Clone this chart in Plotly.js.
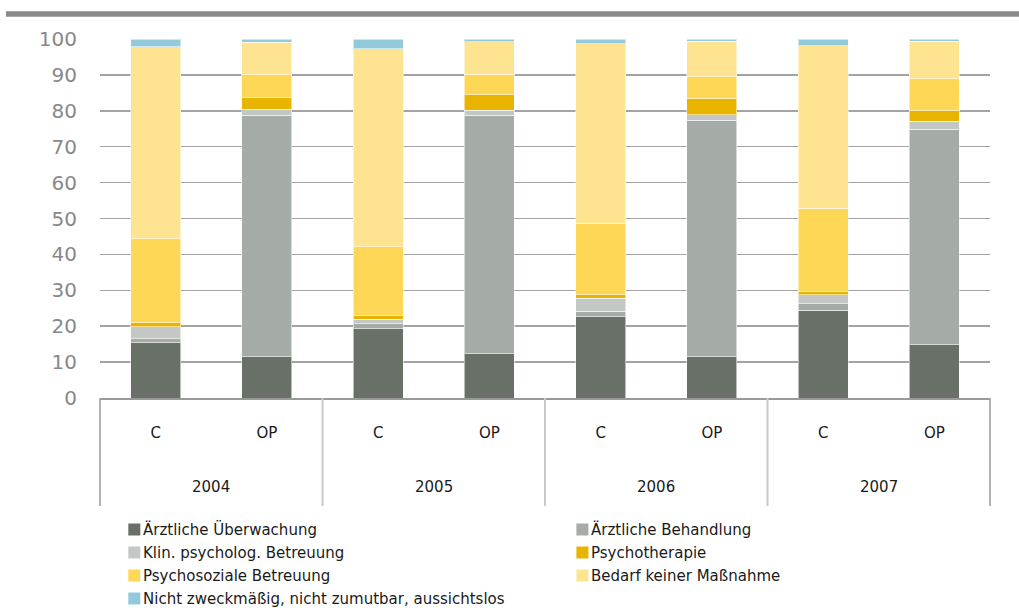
<!DOCTYPE html>
<html>
<head>
<meta charset="utf-8">
<script src="https://cdn.plot.ly/plotly-3.0.1.min.js"></script>
<style>html,body{margin:0;padding:0;background:#fff;}#chart{width:1019px;height:608px;}</style>
</head>
<body>
<div id="chart"></div>
<script>
// ---- data ----
const years = ['2004', '2005', '2006', '2007'];
const groups = ['C', 'OP'];
const seriesNames = [
  'Ärztliche Überwachung',
  'Ärztliche Behandlung',
  'Klin. psycholog. Betreuung',
  'Psychotherapie',
  'Psychosoziale Betreuung',
  'Bedarf keiner Maßnahme',
  'Nicht zweckmäßig, nicht zumutbar, aussichtslos'
];
// order: 2004 C, 2004 OP, 2005 C, 2005 OP, 2006 C, 2006 OP, 2007 C, 2007 OP
const aerztlicheUeberwachung = [15.4, 11.5, 19.3, 12.3, 22.7, 11.5, 24.5, 14.9];
const aerztlicheBehandlung   = [1.1, 67.3, 1.4, 66.5, 1.5, 65.8, 1.7, 60.0];
const klinPsychBetreuung     = [3.3, 1.6, 1.2, 1.4, 3.6, 1.6, 2.5, 2.2];
const psychotherapie         = [1.2, 3.3, 1.0, 4.3, 0.9, 4.4, 1.0, 2.9];
const psychosozialeBetreuung = [23.3, 6.4, 19.2, 5.7, 20.0, 6.2, 23.2, 8.9];
const bedarfKeinerMassnahme  = [53.6, 9.0, 55.2, 9.1, 50.0, 9.9, 45.2, 10.5];
const nichtZweckmaessig      = [2.1, 0.9, 2.7, 0.7, 1.3, 0.6, 1.9, 0.6];
const yTickVals = [0, 10, 20, 30, 40, 50, 60, 70, 80, 90, 100];

// ---- styles ----
const colors = ['#687068', '#a5aca8', '#c3c8c5', '#e9b400', '#fed756', '#fee490', '#92cadb'];
const seriesValues = [aerztlicheUeberwachung, aerztlicheBehandlung, klinPsychBetreuung,
  psychotherapie, psychosozialeBetreuung, bedarfKeinerMassnahme, nichtZweckmaessig];

const cats = [];
const catText = [];
years.forEach(y => groups.forEach(g => { cats.push(y + ' ' + g); catText.push(g); }));

const traces = seriesNames.map((name, i) => ({
  type: 'bar',
  name: name,
  x: cats,
  y: seriesValues[i],
  width: 0.45,
  marker: { color: colors[i], line: { color: 'rgba(255,255,255,0.55)', width: 1 } },
  showlegend: false,
  hoverinfo: 'name+y'
}));

const FONT = 'DejaVu Sans, sans-serif';
const plotH = 359, plotW = 890, plotL = 100, plotB = 398;
const py = px => (plotB - px) / plotH;
const pxx = px => (px - plotL) / plotW;

const shapes = [];
const annotations = [];

// top thick bar
shapes.push({ type: 'rect', xref: 'paper', yref: 'paper', x0: pxx(6), x1: pxx(1019), y0: py(16.7), y1: py(11.3),
  fillcolor: '#8a8a8a', line: { width: 0 } });

// dividers below axis
for (let k = 0; k <= years.length; k++) {
  const outer = (k === 0 || k === years.length);
  shapes.push({ type: 'line', xref: 'paper', yref: 'paper', x0: k / years.length, x1: k / years.length,
    y0: 0, y1: py(506), line: { color: outer ? '#9a9a9a' : '#c8c8c8', width: outer ? 1.5 : 2 } });
}

// year labels
years.forEach((y, i) => {
  annotations.push({ xref: 'x', yref: 'paper', x: i * groups.length + (groups.length - 1) / 2, y: py(486.5),
    text: y, showarrow: false, xanchor: 'center', yanchor: 'middle',
    font: { family: FONT, size: 15, color: '#1a1a1a' } });
});

// manual legend (two columns)
const colX = [128.3, 576.4];
const rowY = [529.5, 552.5, 575.5, 598.5];
seriesNames.forEach((name, i) => {
  const c = i % 2, r = Math.floor(i / 2);
  shapes.push({ type: 'rect', xref: 'paper', yref: 'paper',
    x0: pxx(colX[c]), x1: pxx(colX[c] + 12), y0: py(rowY[r] + 6), y1: py(rowY[r] - 6),
    fillcolor: colors[i], line: { width: 0 } });
  annotations.push({ xref: 'paper', yref: 'paper', x: pxx(colX[c] + 12.5), y: py(rowY[r]),
    text: name, showarrow: false, xanchor: 'left', yanchor: 'middle',
    font: { family: FONT, size: 15, color: '#1a1a1a' } });
});

const layout = {
  width: 1019, height: 608,
  margin: { l: 100, r: 29, t: 39, b: 210 },
  paper_bgcolor: '#ffffff', plot_bgcolor: '#ffffff',
  barmode: 'stack',
  showlegend: false,
  font: { family: FONT, size: 15, color: '#1a1a1a' },
  xaxis: {
    type: 'category',
    categoryorder: 'array', categoryarray: cats,
    tickvals: cats, ticktext: catText,
    ticks: '', showgrid: false, zeroline: false,
    showline: true, linecolor: '#9a9a9a', linewidth: 1.5,
    ticklabelstandoff: 20,
    tickfont: { family: FONT, size: 15, color: '#1a1a1a' },
    fixedrange: true
  },
  yaxis: {
    range: [0, 100],
    tickvals: yTickVals,
    ticks: '', showline: false, zeroline: false,
    showgrid: true, gridcolor: '#a3a3a3', gridwidth: 1.5,
    ticklabelstandoff: 22,
    tickfont: { family: FONT, size: 20, color: '#888888' },
    fixedrange: true
  },
  shapes: shapes,
  annotations: annotations
};

Plotly.newPlot('chart', traces, layout, { displayModeBar: false, staticPlot: true });
</script>
</body>
</html>
